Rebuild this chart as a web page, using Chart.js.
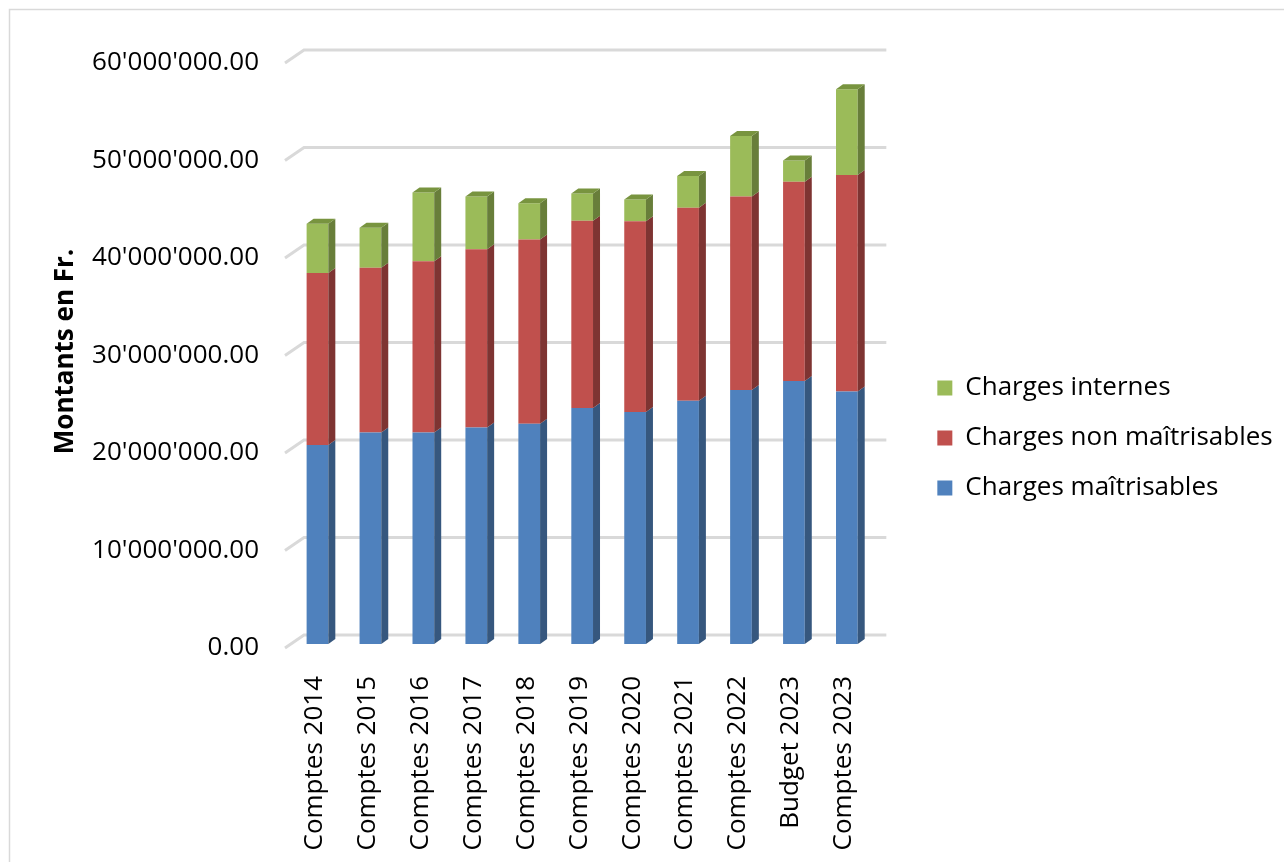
<!DOCTYPE html>
<html>
<head>
    <meta charset="utf-8">
    <title>Charges par catégorie</title>
    <script src="https://cdn.jsdelivr.net/npm/chart.js@4.4.1/dist/chart.umd.min.js"></script>
    <style>
        body { margin: 0; background: #fff; }
        #wrap { width: 1284px; height: 862px; }
    </style>
</head>
<body>
<div id="wrap"><canvas id="myChart"></canvas></div>

<script>
    // exercices
    let labels = ['Comptes 2014', 'Comptes 2015', 'Comptes 2016', 'Comptes 2017', 'Comptes 2018', 'Comptes 2019',
        'Comptes 2020', 'Comptes 2021', 'Comptes 2022', 'Budget 2023', 'Comptes 2023'];

    // montants en Fr.
    let maitrisables = [20400000, 21700000, 21700000, 22200000, 22600000, 24200000,
        23800000, 24950000, 26050000, 26970000, 25900000];
    let nonMaitrisables = [17650000, 16900000, 17550000, 18300000, 18900000, 19200000,
        19550000, 19800000, 19850000, 20430000, 22200000];
    let internes = [5050000, 4100000, 7050000, 5400000, 3700000, 2800000,
        2250000, 3250000, 6200000, 2200000, 8800000];

    let yTicks = [0, 10000000, 20000000, 30000000, 40000000, 50000000, 60000000];

    // profondeur de l'effet 3D
    const DX = 7, DY = -5;
    const BACK_X = 13, BACK_Y = -9, FRONT_X = -6, FRONT_Y = 4;

    function formatFr(v) {
        let parts = v.toFixed(2).split('.');
        parts[0] = parts[0].replace(/\B(?=(\d{3})+(?!\d))/g, "'");
        return parts.join('.');
    }

    Chart.defaults.font.family = "'Open Sans', sans-serif";
    Chart.defaults.color = '#000';

    const fond = {
        id: 'fond',
        beforeDraw(chart) {
            const ctx = chart.ctx;
            ctx.save();
            ctx.fillStyle = '#fff';
            ctx.fillRect(0, 0, chart.width, chart.height);
            ctx.strokeStyle = '#d9d9d9';
            ctx.lineWidth = 1.5;
            ctx.strokeRect(9.5, 9.5, chart.width + 20, chart.height + 20);
            ctx.restore();
        }
    };

    // la légende garde sa position mais peut s'étendre jusqu'au bord
    const legendeLarge = {
        id: 'legendeLarge',
        afterLayout(chart) {
            if (chart.legend) {
                chart.legend.right = chart.width;
                chart.legend.width = chart.width - chart.legend.left;
            }
        }
    };

    // lignes de quadrillage sur la paroi du fond
    const quadrillage = {
        id: 'quadrillage',
        beforeDatasetsDraw(chart) {
            const ctx = chart.ctx;
            const y = chart.scales.y;
            const area = chart.chartArea;
            ctx.save();
            ctx.strokeStyle = '#d9d9d9';
            ctx.lineWidth = 3;
            yTicks.forEach(v => {
                const py = y.getPixelForValue(v);
                ctx.beginPath();
                ctx.moveTo(area.left + FRONT_X, py + FRONT_Y);
                ctx.lineTo(area.left + BACK_X, py + BACK_Y);
                ctx.lineTo(area.right + BACK_X, py + BACK_Y);
                ctx.stroke();
            });
            ctx.restore();
        }
    };

    // faces latérales et dessus des barres
    const relief = {
        id: 'relief',
        afterDatasetsDraw(chart) {
            const ctx = chart.ctx;
            const last = chart.data.datasets.length - 1;
            ctx.save();
            chart.data.datasets.forEach((ds, i) => {
                const meta = chart.getDatasetMeta(i);
                meta.data.forEach(bar => {
                    const p = bar.getProps(['x', 'y', 'base', 'width'], true);
                    const l = p.x - p.width / 2, r = p.x + p.width / 2;
                    ctx.fillStyle = ds.sideColor;
                    ctx.beginPath();
                    ctx.moveTo(r, p.y);
                    ctx.lineTo(r + DX, p.y + DY);
                    ctx.lineTo(r + DX, p.base + DY);
                    ctx.lineTo(r, p.base);
                    ctx.closePath();
                    ctx.fill();
                    if (i === last) {
                        ctx.fillStyle = ds.topColor;
                        ctx.beginPath();
                        ctx.moveTo(l, p.y);
                        ctx.lineTo(l + DX, p.y + DY);
                        ctx.lineTo(r + DX, p.y + DY);
                        ctx.lineTo(r, p.y);
                        ctx.closePath();
                        ctx.fill();
                    }
                });
            });
            ctx.restore();
        }
    };

    var ctx = document.getElementById('myChart').getContext('2d');
    var myChart = new Chart(ctx, {
        type: 'bar',
        data: {
            labels: labels,
            datasets: [{
                label: 'Charges maîtrisables',
                data: maitrisables,
                backgroundColor: '#4f81bd',
                sideColor: '#36577e',
                topColor: '#6a93c8'
            }, {
                label: 'Charges non maîtrisables',
                data: nonMaitrisables,
                backgroundColor: '#c0504d',
                sideColor: '#7e3432',
                topColor: '#d06a66'
            }, {
                label: 'Charges internes',
                data: internes,
                backgroundColor: '#9bbb59',
                sideColor: '#687e3a',
                topColor: '#78943f'
            }]
        },
        options: {
            responsive: true,
            maintainAspectRatio: false,
            animation: false,
            // la légende reçoit 1/6 de la largeur disponible
            layout: { padding: { left: 0, top: 24, right: 188, bottom: 10 } },
            datasets: {
                bar: { barPercentage: 0.41, categoryPercentage: 1 }
            },
            scales: {
                x: {
                    stacked: true,
                    grid: { display: false },
                    border: { display: false },
                    ticks: {
                        minRotation: 90,
                        maxRotation: 90,
                        padding: 24,
                        labelOffset: -3,
                        font: { size: 26 }
                    },
                    afterFit(s) { s.height = 208; }
                },
                haut: {
                    type: 'linear',
                    position: 'top',
                    display: true,
                    grid: { display: false },
                    border: { display: false },
                    ticks: { display: false },
                    afterFit(s) { s.height = 35; }
                },
                y: {
                    stacked: true,
                    min: 0,
                    max: 60000000,
                    grid: { display: false, drawTicks: false },
                    border: { display: false },
                    ticks: {
                        stepSize: 10000000,
                        padding: 32,
                        labelOffset: 4,
                        font: { size: 26 },
                        callback: v => formatFr(v)
                    },
                    title: {
                        display: true,
                        text: 'Montants en Fr.',
                        font: { size: 26, weight: 'bold' },
                        padding: { top: 50, bottom: 0 }
                    },
                    afterFit(s) { s.width = 291; }
                },
                ecart: {
                    type: 'linear',
                    position: 'right',
                    display: true,
                    grid: { display: false },
                    border: { display: false },
                    ticks: { display: false },
                    afterFit(s) { s.width = 40; }
                }
            },
            plugins: {
                legend: {
                    position: 'right',
                    reverse: true,
                    labels: {
                        boxWidth: 15,
                        boxHeight: 15,
                        padding: 24,
                        font: { size: 26 }
                    }
                },
                tooltip: { enabled: false }
            }
        },
        plugins: [fond, legendeLarge, quadrillage, relief]
    });
</script>

</body>
</html>
